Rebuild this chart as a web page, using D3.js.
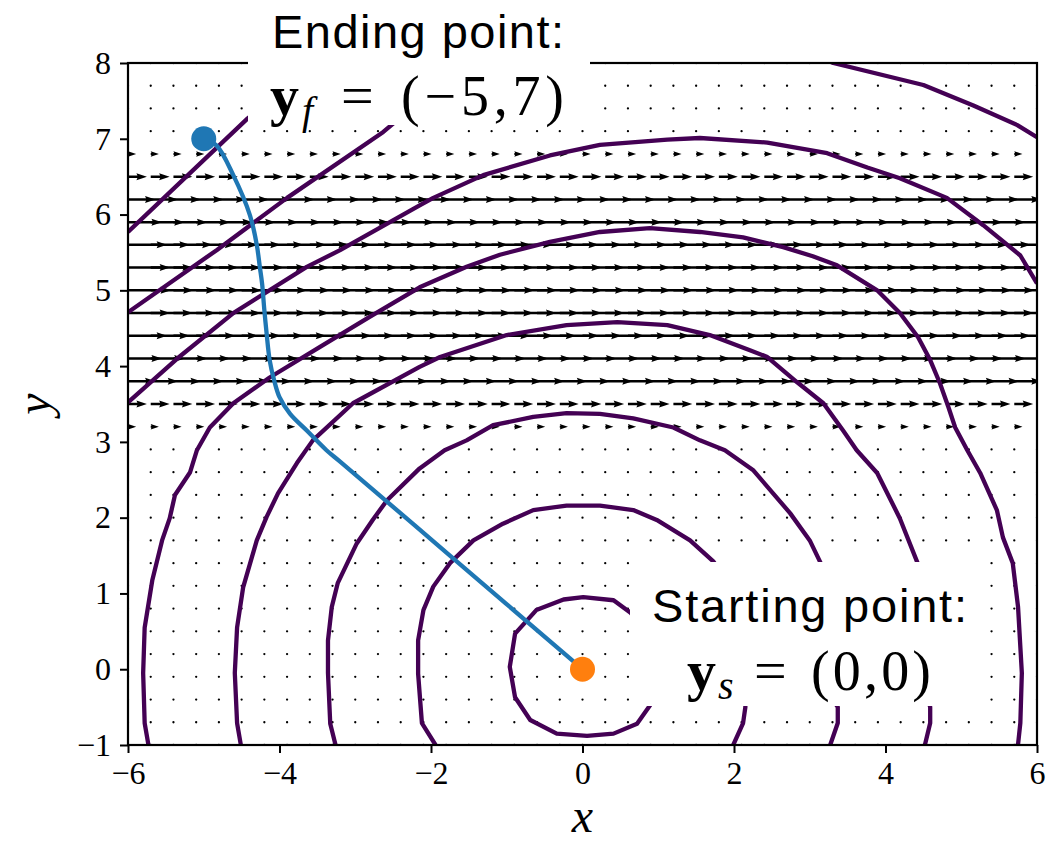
<!DOCTYPE html>
<html>
<head>
<meta charset="utf-8">
<script src="https://cdn.jsdelivr.net/npm/d3@7"></script>
<style>
  body { margin: 0; background: #fff; }
  svg { display: block; }
</style>
</head>
<body>
<svg id="chart" width="1053" height="846"></svg>
<script>
// ---- axes ----
const xDomain = [-6, 6];
const yDomain = [-1, 8];
const xTicks = [-6, -4, -2, 0, 2, 4, 6];
const yTicks = [-1, 0, 1, 2, 3, 4, 5, 6, 7, 8];

// ---- wind field sampling lattice ----
const gridX = [-6, -5.7, -5.4, -5.1, -4.8, -4.5, -4.2, -3.9, -3.6, -3.3, -3, -2.7, -2.4, -2.1,
  -1.8, -1.5, -1.2, -0.9, -0.6, -0.3, 0, 0.3, 0.6, 0.9, 1.2, 1.5, 1.8, 2.1, 2.4, 2.7, 3, 3.3,
  3.6, 3.9, 4.2, 4.5, 4.8, 5.1, 5.4, 5.7, 6];
const gridY = [-1, -0.7, -0.4, -0.1, 0.2, 0.5, 0.8, 1.1, 1.4, 1.7, 2, 2.3, 2.6, 2.9, 3.2, 3.5,
  3.8, 4.1, 4.4, 4.7, 5, 5.3, 5.6, 5.9, 6.2, 6.5, 6.8, 7.1, 7.4, 7.7, 8];

// eastward wind speed in the jet band (zero elsewhere)
const windRowsY = [3.2, 3.5, 3.8, 4.1, 4.4, 4.7, 5.0, 5.3, 5.6, 5.9, 6.2, 6.5, 6.8];
const windSpeed = [0.19, 0.44, 0.64, 0.79, 0.91, 0.98, 1.0, 0.98, 0.91, 0.79, 0.64, 0.44, 0.19];

// ---- travel-time fronts (level sets), as visible segments ----
const front1 = [[0.8, 0.55], [0.63, 0.75], [0.41, 0.91], [0.01, 0.95], [-0.25, 0.92], [-0.61, 0.78],
  [-0.89, 0.47], [-0.96, 0.03], [-0.89, -0.37], [-0.69, -0.67], [-0.34, -0.85], [0.06, -0.88],
  [0.41, -0.85], [0.72, -0.72], [0.89, -0.48], [0.95, -0.3]];
const front2a = [[-1.94, -1], [-2.12, -0.71], [-2.17, -0.06], [-2.17, 0.38], [-2.1, 0.78], [-1.97, 1.09],
  [-1.75, 1.4], [-1.44, 1.7], [-1.05, 1.92], [-0.65, 2.1], [-0.21, 2.16], [0.23, 2.16], [0.67, 2.1],
  [0.98, 1.97], [1.42, 1.7], [1.73, 1.42], [1.85, 1.25]];
const front2b = [[2.15, -0.4], [2.15, -0.5], [2.12, -0.71], [1.99, -1]];
const front3a = [[-3.26, -1], [-3.33, -0.72], [-3.36, -0.05], [-3.36, 0.38], [-3.31, 0.82], [-3.23, 1.14],
  [-2.98, 1.66], [-2.77, 1.97], [-2.58, 2.23], [-2.15, 2.65], [-1.82, 2.89], [-1.53, 3.02], [-1.18, 3.22],
  [-0.65, 3.33], [-0.21, 3.38], [0.23, 3.37], [0.67, 3.31], [1.2, 3.19], [1.55, 3.02], [1.88, 2.89],
  [2.25, 2.63], [2.74, 2.06], [3.0, 1.7], [3.14, 1.41], [3.2, 1.2]];
const front3b = [[3.27, -0.35], [3.37, -0.5], [3.37, -0.71], [3.27, -1]];
const front4a = [[-4.51, -1], [-4.56, -0.71], [-4.59, -0.05], [-4.56, 0.55], [-4.48, 1.08], [-4.3, 1.7],
  [-4.17, 2.01], [-4.02, 2.32], [-3.77, 2.72], [-3.56, 3.02], [-3.03, 3.51], [-2.15, 3.99], [-1.88, 4.12],
  [-1.0, 4.41], [-0.21, 4.54], [0.46, 4.58], [1.12, 4.54], [1.68, 4.41], [2.21, 4.21], [2.44, 4.12],
  [2.83, 3.79], [3.18, 3.51], [3.44, 3.15], [3.62, 2.89], [3.89, 2.59], [4.19, 1.99], [4.42, 1.41],
  [4.5, 1.2]];
const front4b = [[4.55, -0.35], [4.59, -0.5], [4.59, -0.71], [4.52, -1]];
const front5 = [[-5.73, -1], [-5.78, -0.71], [-5.8, -0.05], [-5.78, 0.55], [-5.68, 1.17], [-5.55, 1.7],
  [-5.45, 1.99], [-5.38, 2.3], [-5.18, 2.6], [-5.09, 2.89], [-4.92, 3.19], [-4.61, 3.51], [-4.13, 3.85],
  [-3.47, 4.25], [-2.81, 4.65], [-2.15, 5.04], [-1.53, 5.31], [-1.09, 5.47], [-0.43, 5.64], [0.23, 5.77],
  [0.89, 5.82], [1.55, 5.77], [2.12, 5.7], [2.65, 5.57], [3.04, 5.45], [3.36, 5.33], [3.89, 5.0],
  [4.19, 4.7], [4.43, 4.38], [4.59, 4.08], [4.72, 3.77], [4.83, 3.46], [4.92, 3.19], [5.08, 2.89],
  [5.25, 2.59], [5.47, 2.1], [5.55, 1.74], [5.68, 1.4], [5.75, 0.82], [5.8, -0.05], [5.78, -0.71],
  [5.75, -0.99], [5.73, -1]];
const front6 = [[-6, 3.52], [-5.35, 4.1], [-4.61, 4.7], [-3.64, 5.31], [-3.2, 5.53], [-2.15, 6.12],
  [-1.97, 6.22], [-1.31, 6.52], [-0.43, 6.78], [0.23, 6.92], [1.12, 6.99], [1.55, 7.01], [2.44, 6.95],
  [3.23, 6.81], [3.76, 6.62], [4.19, 6.48], [4.81, 6.22], [5.29, 5.86], [5.78, 5.46], [6, 5.09]];
const front7a = [[-6, 4.71], [-4.83, 5.53], [-3.9, 6.22], [-2.63, 7.09], [-2.2, 7.45]];
const front7b = [[3.2, 8.05], [3.31, 8.0], [4.5, 7.71], [5.16, 7.44], [5.74, 7.18], [6, 7.02]];
const front8 = [[-6, 5.77], [-4.42, 7.27], [-4.0, 7.6]];
const fronts = [front1, front2a, front2b, front3a, front3b, front4a, front4b,
  front5, front6, front7a, front7b, front8];

// ---- optimal trajectory ----
const trajectory = [[0, 0], [-1.75, 1.5], [-3.2, 2.74], [-3.38, 2.89], [-3.64, 3.15], [-3.86, 3.37],
  [-4.0, 3.59], [-4.07, 3.81], [-4.13, 4.08], [-4.17, 4.43], [-4.2, 4.74], [-4.23, 5.09],
  [-4.26, 5.31], [-4.3, 5.6], [-4.39, 5.99], [-4.61, 6.52], [-4.83, 6.91], [-5, 7]];
const startPoint = [0, 0];
const endPoint = [-5, 7];

// ---- layout ----
const plot = { left: 128, right: 1037, top: 63, bottom: 745 };

const svg = d3.select("#chart");
const x = d3.scaleLinear().domain(xDomain).range([plot.left, plot.right]);
const y = d3.scaleLinear().domain(yDomain).range([plot.bottom, plot.top]);
// arrow length in pixels per unit wind speed
const arrowLen = d3.scaleLinear().domain([0, 1]).range([0, 43]);

svg.append("defs").append("clipPath").attr("id", "plotClip")
  .append("rect")
  .attr("x", plot.left).attr("y", plot.top)
  .attr("width", plot.right - plot.left).attr("height", plot.bottom - plot.top);

const inner = svg.append("g").attr("clip-path", "url(#plotClip)");

// ---- quiver ----
const shaftW = 2.5, headL = 10.5, headAxisL = 9.5, headW = 7;
function arrowPoly(x0, y0, L) {
  let w = shaftW, hl = headL, hal = headAxisL, hw = headW;
  if (L < headL) {
    const f = L / headL;
    w *= f; hl *= f; hal *= f; hw *= f;
  }
  const pts = [
    [x0, y0 - w / 2], [x0 + L - hal, y0 - w / 2], [x0 + L - hl, y0 - hw / 2],
    [x0 + L, y0], [x0 + L - hl, y0 + hw / 2], [x0 + L - hal, y0 + w / 2], [x0, y0 + w / 2]
  ];
  return "M" + pts.map(p => p[0].toFixed(2) + "," + p[1].toFixed(2)).join("L") + "Z";
}

const quiver = inner.append("g");
gridY.forEach(gy => {
  const idx = windRowsY.findIndex(r => Math.abs(r - gy) < 1e-6);
  const s = idx >= 0 ? windSpeed[idx] : 0;
  gridX.forEach(gx => {
    if (s > 0) {
      quiver.append("path")
        .attr("d", arrowPoly(x(gx), y(gy), arrowLen(s)))
        .attr("fill", "#000");
    } else {
      quiver.append("circle")
        .attr("cx", x(gx)).attr("cy", y(gy)).attr("r", 1.15)
        .attr("fill", "#000");
    }
  });
});

// ---- fronts ----
const line = d3.line().x(d => x(d[0])).y(d => y(d[1]));
inner.append("g").selectAll("path").data(fronts).join("path")
  .attr("d", line)
  .attr("fill", "none")
  .attr("stroke", "#440154")
  .attr("stroke-width", 4.3)
  .attr("stroke-linejoin", "round");

// ---- trajectory ----
const curve = d3.line().x(d => x(d[0])).y(d => y(d[1])).curve(d3.curveCatmullRom.alpha(0.5));
inner.append("path")
  .attr("d", curve(trajectory))
  .attr("fill", "none")
  .attr("stroke", "#1f77b4")
  .attr("stroke-width", 4.3);

svg.append("circle").attr("cx", x(startPoint[0])).attr("cy", y(startPoint[1]))
  .attr("r", 12.5).attr("fill", "#ff7f0e");
svg.append("circle").attr("cx", x(endPoint[0])).attr("cy", y(endPoint[1]))
  .attr("r", 12.5).attr("fill", "#1f77b4");

// ---- axes ----
const fmt = d => d < 0 ? "\u2212" + Math.abs(d) : String(d);
const serifFont = "'Liberation Serif', 'Times New Roman', serif";

const gx = svg.append("g").attr("transform", `translate(0,${plot.bottom})`)
  .call(d3.axisBottom(x).tickValues(xTicks).tickSize(8).tickPadding(8).tickFormat(fmt));
const gy = svg.append("g").attr("transform", `translate(${plot.left},0)`)
  .call(d3.axisLeft(y).tickValues(yTicks).tickSize(8).tickPadding(9).tickFormat(fmt));
[gx, gy].forEach(g => {
  g.attr("font-family", serifFont).attr("font-size", 32);
  g.select(".domain").remove();
  g.selectAll(".tick line").attr("stroke", "#000").attr("stroke-width", 2);
  g.selectAll(".tick text").attr("fill", "#000")
    .style("font-family", serifFont).style("font-size", "32px");
});

svg.append("rect")
  .attr("x", plot.left).attr("y", plot.top)
  .attr("width", plot.right - plot.left).attr("height", plot.bottom - plot.top)
  .attr("fill", "none").attr("stroke", "#000").attr("stroke-width", 2.2);

svg.append("text").attr("x", x(0)).attr("y", 832)
  .attr("text-anchor", "middle")
  .style("font-family", serifFont).style("font-style", "italic").style("font-size", "48px")
  .text("x");
svg.append("text").attr("transform", "translate(50,404) rotate(-90)")
  .attr("text-anchor", "middle")
  .style("font-family", serifFont).style("font-style", "italic").style("font-size", "48px")
  .text("y");

// ---- annotations ----
const sansFont = "'Liberation Sans', Arial, Helvetica, sans-serif";
function annotation(box, title, sub, value, pos) {
  svg.append("rect").attr("x", box.x).attr("y", box.y).attr("width", box.w).attr("height", box.h)
    .attr("fill", "#fff");
  svg.append("text").attr("x", pos.titleX).attr("y", pos.titleY)
    .attr("textLength", pos.titleLen).attr("lengthAdjust", "spacing")
    .style("font-family", sansFont).style("font-size", "47px").attr("fill", "#000")
    .text(title);
  svg.append("text").attr("x", pos.yX).attr("y", pos.base)
    .style("font-family", serifFont).style("font-weight", "bold").style("font-size", "58px")
    .text("y");
  svg.append("text").attr("x", pos.subX).attr("y", pos.base + 9)
    .style("font-family", serifFont).style("font-style", "italic").style("font-size", "40px")
    .text(sub);
  svg.append("text").attr("x", pos.eqX).attr("y", pos.base)
    .style("font-family", serifFont).style("font-size", "58px")
    .text("=");
  svg.append("text").attr("x", pos.valX).attr("y", pos.base)
    .attr("textLength", pos.valLen).attr("lengthAdjust", "spacing")
    .style("font-family", serifFont).style("font-size", "56px")
    .text(value);
}

annotation({ x: 248, y: -10, w: 342, h: 135 }, "Ending point:", "f", "(\u22125,7)",
  { titleX: 272, titleY: 48, titleLen: 292, yX: 270, subX: 302, eqX: 341, valX: 401, valLen: 163, base: 115 });
annotation({ x: 630, y: 562, w: 358, h: 144 }, "Starting point:", "s", "(0,0)",
  { titleX: 652, titleY: 622, titleLen: 315, yX: 687, subX: 718, eqX: 754, valX: 811, valLen: 120, base: 690 });
</script>
</body>
</html>
